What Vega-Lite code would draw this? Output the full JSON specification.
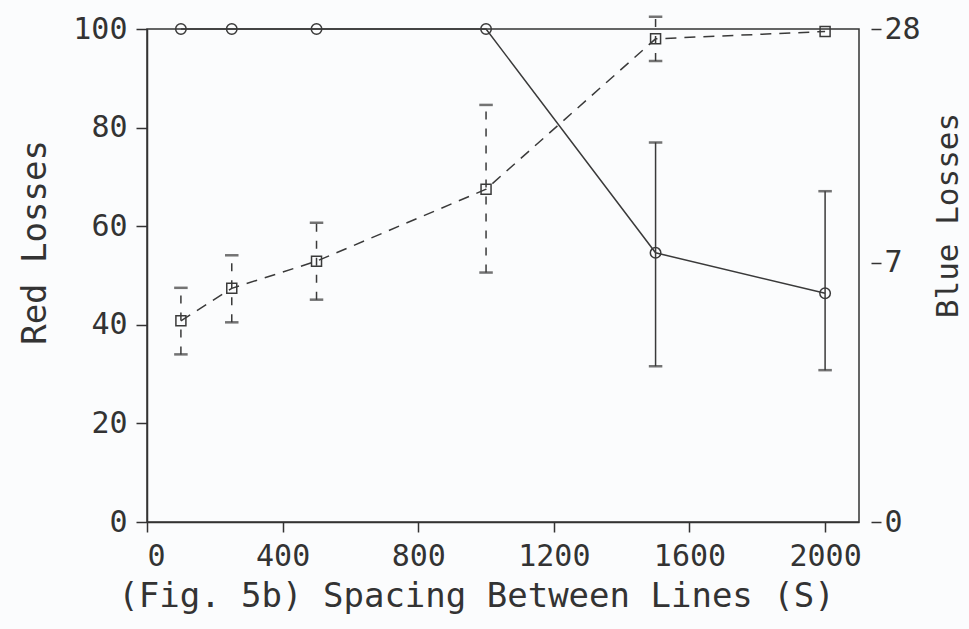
{
  "$schema": "https://vega.github.io/schema/vega-lite/v6.json",
  "width": 712,
  "height": 493,
  "autosize": {"type": "none"},
  "padding": {"left": 147, "top": 29, "right": 110, "bottom": 107},
  "background": "#fbfcfd",
  "config": {
    "view": {"stroke": "#333333", "strokeWidth": 1.5},
    "axis": {
      "grid": false,
      "labelFont": "DejaVu Sans Mono",
      "labelFontSize": 30,
      "labelColor": "#333333",
      "titleFont": "DejaVu Sans Mono",
      "titleFontSize": 34,
      "titleFontWeight": "normal",
      "titleColor": "#333333",
      "tickColor": "#333333",
      "tickWidth": 1.5,
      "domainColor": "#333333",
      "domainWidth": 1.5
    }
  },
  "datasets": {
    "red": [
      {"s": 100, "red": 40.8, "lo": 34.0, "hi": 47.5},
      {"s": 250, "red": 47.4, "lo": 40.5, "hi": 54.1},
      {"s": 500, "red": 52.9, "lo": 45.1, "hi": 60.7},
      {"s": 1000, "red": 67.5, "lo": 50.6, "hi": 84.6},
      {"s": 1500, "red": 98.0, "lo": 93.5, "hi": 102.5},
      {"s": 2000, "red": 99.5, "lo": null, "hi": null}
    ],
    "blue": [
      {"s": 100, "blue": 100, "lo": null, "hi": null},
      {"s": 250, "blue": 100, "lo": null, "hi": null},
      {"s": 500, "blue": 100, "lo": null, "hi": null},
      {"s": 1000, "blue": 100, "lo": null, "hi": null},
      {"s": 1500, "blue": 54.6, "lo": 31.6, "hi": 77.0},
      {"s": 2000, "blue": 46.4, "lo": 30.8, "hi": 67.1}
    ],
    "blueTicks": [{"b": 0}, {"b": 7}, {"b": 28}]
  },
  "layer": [
    {
      "layer": [
        {
          "data": {"name": "red"},
          "mark": {"type": "line", "stroke": "#3a3a3a", "strokeWidth": 1.5, "strokeDash": [11, 8]},
          "encoding": {
            "x": {
              "field": "s", "type": "quantitative",
              "scale": {"domain": [0, 2100], "nice": false},
              "axis": {
                "values": [0, 400, 800, 1200, 1600, 2000],
                "format": "d",
                "title": "(Fig. 5b) Spacing Between Lines (S)",
                "tickSize": 10,
                "labelPadding": 9,
                "titleX": 329,
                "titleY": 57,
                "titleAnchor": "middle"
              }
            },
            "y": {
              "field": "red", "type": "quantitative",
              "scale": {"domain": [0, 100], "nice": false},
              "title": "Red Losses",
              "axis": {
                "values": [0, 20, 40, 60, 80, 100],
                "tickSize": 11,
                "labelPadding": 9,
                "titleX": -112,
                "titleY": 213,
                "titleBaseline": "middle",
                "titleAngle": -90
              }
            }
          }
        },
        {
          "data": {"name": "red"},
          "mark": {"type": "point", "shape": "square", "size": 100, "filled": false, "stroke": "#3a3a3a", "strokeWidth": 1.5, "opacity": 1},
          "encoding": {
            "x": {"field": "s", "type": "quantitative"},
            "y": {"field": "red", "type": "quantitative", "title": "Red Losses"}
          }
        },
        {
          "data": {"name": "red"},
          "transform": [{"filter": "datum.lo != null"}],
          "mark": {
            "type": "errorbar",
            "rule": {"stroke": "#3a3a3a", "strokeWidth": 1.5, "strokeDash": [8, 9]},
            "ticks": {"stroke": "#3a3a3a", "strokeWidth": 1.5, "size": 12}
          },
          "encoding": {
            "x": {"field": "s", "type": "quantitative"},
            "y": {"field": "lo", "type": "quantitative", "title": "Red Losses"},
            "y2": {"field": "hi"}
          }
        },
        {
          "data": {"name": "blue"},
          "mark": {"type": "line", "stroke": "#3a3a3a", "strokeWidth": 1.5},
          "encoding": {
            "x": {"field": "s", "type": "quantitative"},
            "y": {"field": "blue", "type": "quantitative", "title": "Red Losses"}
          }
        },
        {
          "data": {"name": "blue"},
          "mark": {"type": "point", "shape": "circle", "size": 110, "filled": false, "stroke": "#3a3a3a", "strokeWidth": 1.5, "opacity": 1},
          "encoding": {
            "x": {"field": "s", "type": "quantitative"},
            "y": {"field": "blue", "type": "quantitative", "title": "Red Losses"}
          }
        },
        {
          "data": {"name": "blue"},
          "transform": [{"filter": "datum.lo != null"}],
          "mark": {
            "type": "errorbar",
            "rule": {"stroke": "#3a3a3a", "strokeWidth": 1.5},
            "ticks": {"stroke": "#3a3a3a", "strokeWidth": 1.5, "size": 12}
          },
          "encoding": {
            "x": {"field": "s", "type": "quantitative"},
            "y": {"field": "lo", "type": "quantitative", "title": "Red Losses"},
            "y2": {"field": "hi"}
          }
        }
      ]
    },
    {
      "data": {"name": "blueTicks"},
      "mark": {"type": "point", "opacity": 0},
      "encoding": {
        "y": {
          "field": "b", "type": "quantitative",
          "scale": {"type": "pow", "exponent": 0.463, "domain": [0, 28], "nice": false, "zero": true},
          "axis": {
            "orient": "right",
            "values": [0, 7, 28],
            "title": "Blue Losses",
            "titleFontSize": 31,
            "domain": false,
            "offset": 12,
            "tickSize": 10,
            "labelPadding": 3,
            "titleAngle": -90,
            "titleBaseline": "middle",
            "titleX": 77,
            "titleY": 186
          }
        }
      }
    }
  ],
  "resolve": {"scale": {"y": "independent"}}
}
